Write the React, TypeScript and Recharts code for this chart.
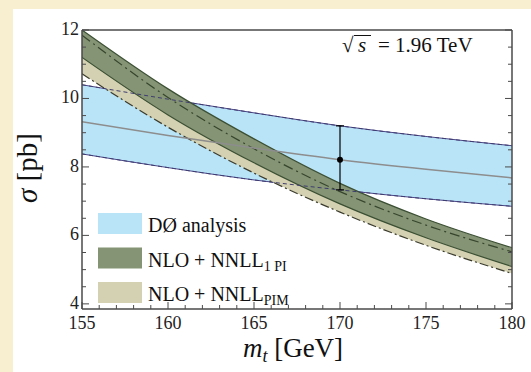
import {
  Area,
  ComposedChart,
  ErrorBar,
  Line,
  Scatter,
  XAxis,
  YAxis,
} from 'recharts';

// top mass grid (GeV) and cross sections (pb)
const mt = [155, 160, 165, 170, 175, 180];
const d0Upper = [10.4, 9.98, 9.58, 9.2, 8.89, 8.62];
const d0Central = [9.32, 8.92, 8.55, 8.21, 7.93, 7.68];
const d0Lower = [8.38, 7.98, 7.62, 7.33, 7.07, 6.85];
const onePiUpper = [12.0, 10.28, 8.82, 7.52, 6.48, 5.64];
const onePiCentral = [11.85, 10.03, 8.53, 7.28, 6.3, 5.52];
const onePiLower = [11.2, 9.52, 8.12, 6.92, 5.93, 5.09];
const pimUpper = [11.6, 9.95, 8.5, 7.28, 6.28, 5.45];
const pimLower = [10.72, 9.16, 7.82, 6.68, 5.71, 4.89];

// D0 measurement point
const measMt = 170;
const measSigma = 8.21;
const measLow = 7.33;
const measHigh = 9.2;

const xMajor = [155, 160, 165, 170, 175, 180];
const yMajor = [4, 6, 8, 10, 12];
const xTicks = Array.from({ length: 26 }, (_, i) => 155 + i);
const yTicks = Array.from({ length: 17 }, (_, i) => 4 + i * 0.5);

const rows = mt.map((m, i) => ({
  m,
  d0: [d0Lower[i], d0Upper[i]],
  d0Up: d0Upper[i],
  d0Low: d0Lower[i],
  d0C: d0Central[i],
  pi: [onePiLower[i], onePiUpper[i]],
  piC: onePiCentral[i],
  pim: [pimLower[i], pimUpper[i]],
  pimLow: pimLower[i],
}));

const meas = [
  { m: measMt, v: measSigma, err: [measSigma - measLow, measHigh - measSigma] },
];

const serif = '"Liberation Serif", "Times New Roman", serif';
const frame = '#4a4a4a';

function XTick(props: any) {
  const { x, y, payload, side } = props;
  const major = xMajor.includes(payload.value);
  const len = major ? 7 : 4;
  const dir = side === 'top' ? 1 : -1;
  return (
    <g>
      <line x1={x} x2={x} y1={y} y2={y + dir * len} stroke={frame} strokeWidth={1} />
      {side !== 'top' && major && (
        <text x={x} y={y + 20} textAnchor="middle" fontFamily={serif} fontSize={18} fill="#222">
          {payload.value}
        </text>
      )}
    </g>
  );
}

function YTick(props: any) {
  const { x, y, payload, side } = props;
  const major = yMajor.includes(payload.value);
  const len = major ? 7 : 4;
  const dir = side === 'right' ? -1 : 1;
  return (
    <g>
      <line x1={x} x2={x + dir * len} y1={y} y2={y} stroke={frame} strokeWidth={1} />
      {side !== 'right' && major && (
        <text x={x - 3} y={y + 5} textAnchor="end" fontFamily={serif} fontSize={18} fill="#222">
          {payload.value}
        </text>
      )}
    </g>
  );
}

const legendItems = [
  { color: '#b9e4f8', label: 'DØ analysis', sub: '' },
  { color: '#849474', label: 'NLO + NNLL', sub: '1 PI' },
  { color: '#d3d1b1', label: 'NLO + NNLL', sub: 'PIM' },
];

export default function App() {
  return (
    <div
      style={{
        position: 'fixed',
        left: 0,
        top: 0,
        width: 531,
        height: 372,
        background: '#f8efd1',
        overflow: 'hidden',
      }}
    >
      <div style={{ position: 'absolute', left: 13, top: 9, width: 518, height: 363, background: '#fff' }}>
        <ComposedChart
          width={518}
          height={363}
          data={rows}
          margin={{ top: 20, right: 18, bottom: 62, left: 68 }}
        >
          <XAxis
            dataKey="m"
            type="number"
            domain={[155, 180]}
            ticks={xTicks}
            interval={0}
            height={1}
            tickSize={0}
            tickMargin={0}
            tick={<XTick side="bottom" />}
            axisLine={{ stroke: frame, strokeWidth: 1.5 }}
            allowDataOverflow
          />
          <XAxis
            xAxisId="top"
            orientation="top"
            type="number"
            domain={[155, 180]}
            ticks={xTicks}
            interval={0}
            height={1}
            tickSize={0}
            tickMargin={0}
            tick={<XTick side="top" />}
            axisLine={{ stroke: frame, strokeWidth: 1.5 }}
            allowDataOverflow
          />
          <YAxis
            type="number"
            domain={[3.85, 12]}
            ticks={yTicks}
            interval={0}
            width={1}
            tickSize={0}
            tickMargin={0}
            tick={<YTick side="left" />}
            axisLine={{ stroke: frame, strokeWidth: 1.5 }}
            allowDataOverflow
          />
          <YAxis
            yAxisId="right"
            orientation="right"
            type="number"
            domain={[3.85, 12]}
            ticks={yTicks}
            interval={0}
            width={1}
            tickSize={0}
            tickMargin={0}
            tick={<YTick side="right" />}
            axisLine={{ stroke: frame, strokeWidth: 1.5 }}
            allowDataOverflow
          />

          <Area dataKey="d0" type="monotone" fill="#b9e4f8" fillOpacity={1} stroke="#4c4788" strokeWidth={1} isAnimationActive={false} />
          <Area dataKey="pim" type="monotone" fill="#d3d1b1" fillOpacity={1} stroke="none" isAnimationActive={false} />
          <Area dataKey="pi" type="monotone" fill="#849474" fillOpacity={1} stroke="#3b4f33" strokeWidth={1.2} isAnimationActive={false} />

          <Line dataKey="d0Up" type="monotone" stroke="#3f3c70" strokeWidth={1} strokeDasharray="4 3" dot={false} isAnimationActive={false} />
          <Line dataKey="d0Low" type="monotone" stroke="#3f3c70" strokeWidth={1} strokeDasharray="4 3" dot={false} isAnimationActive={false} />
          <Line dataKey="pimLow" type="monotone" stroke="#3a3a2c" strokeWidth={1.2} strokeDasharray="9 3 2 3" dot={false} isAnimationActive={false} />
          <Line dataKey="piC" type="monotone" stroke="#36452c" strokeWidth={1.2} strokeDasharray="10 4 2 4" dot={false} isAnimationActive={false} />
          <Line dataKey="d0C" type="monotone" stroke="#8d8d8d" strokeWidth={1.5} dot={false} isAnimationActive={false} />

          <Scatter
            data={meas}
            dataKey="v"
            fill="#000"
            shape={(p: any) => <circle cx={p.cx} cy={p.cy} r={3} fill="#000" />}
            isAnimationActive={false}
          >
            <ErrorBar dataKey="err" direction="y" width={4} stroke="#000" strokeWidth={1.2} isAnimationActive={false} />
          </Scatter>
        </ComposedChart>
      </div>

      <svg
        width={531}
        height={372}
        style={{ position: 'absolute', left: 0, top: 0, pointerEvents: 'none' }}
        fontFamily={serif}
      >
        <text x={342} y={52} fontSize={21} fill="#111">
          √
        </text>
        <line x1={354} x2={371} y1={35.5} y2={35.5} stroke="#111" strokeWidth={1} />
        <text x={358} y={52} fontSize={21} fontStyle="italic" fill="#111">
          s
        </text>
        <text x={378} y={52} fontSize={21} fill="#111">
          = 1.96 TeV
        </text>

        <text x={293} y={357} fontSize={27} textAnchor="middle" fill="#111">
          <tspan fontStyle="italic">m</tspan>
          <tspan fontStyle="italic" fontSize={18} dy={5}>t</tspan>
          <tspan dy={-5}> [GeV]</tspan>
        </text>
        <text
          transform="translate(37,168) rotate(-90)"
          fontSize={29}
          textAnchor="middle"
          fill="#111"
        >
          <tspan fontStyle="italic">σ</tspan> [pb]
        </text>

        {legendItems.map((item, i) => {
          const top = 213 + i * 34.5;
          return (
            <g key={item.sub || item.label}>
              <rect x={98} y={top} width={44} height={21} fill={item.color} />
              <text x={148} y={top + 19} fontSize={20} fill="#111">
                {item.label}
                {item.sub && (
                  <tspan fontSize={14} dy={4}>
                    {item.sub}
                  </tspan>
                )}
              </text>
            </g>
          );
        })}
      </svg>
    </div>
  );
}
